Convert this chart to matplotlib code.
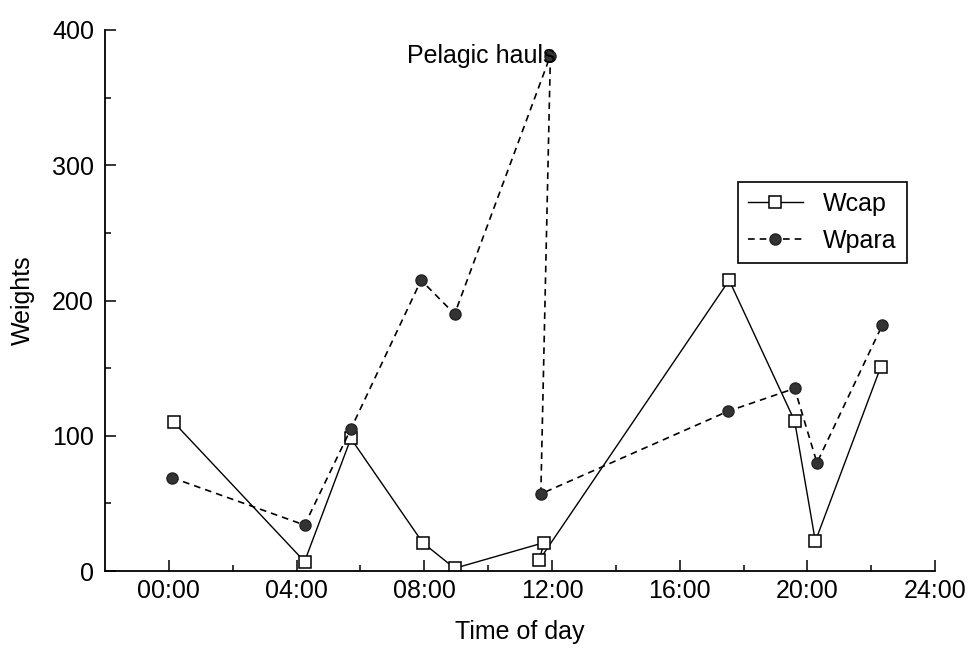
import matplotlib
matplotlib.use("Agg")
import matplotlib.pyplot as plt

plt.rcParams['font.family'] = ['Liberation Sans', 'DejaVu Sans']

# time of day in hours, weights
time_wcap = [0.15, 4.25, 5.7, 7.95, 8.95, 11.75, 11.6, 17.55, 19.6, 20.25, 22.3]
wcap = [110, 7, 98, 21, 2, 21, 8, 215, 111, 22, 151]

time_wpara = [0.1, 4.25, 5.7, 7.9, 8.95, 11.95, 11.65, 17.5, 19.6, 20.3, 22.35]
wpara = [69, 34, 105, 215, 190, 381, 57, 118, 135, 80, 182]

xticks = [0, 4, 8, 12, 16, 20, 24]
xticklabels = ["00:00", "04:00", "08:00", "12:00", "16:00", "20:00", "24:00"]
yticks = [0, 100, 200, 300, 400]

fs = 18

fig = plt.figure(figsize=(9.69, 6.55), dpi=100)
ax = fig.add_axes([0.1084, 0.1282, 0.8566, 0.826])

ax.plot(time_wcap, wcap, color='black', lw=1.0, marker='s', ms=8,
        mfc='white', mec='black', mew=1.1, label='Wcap')
ax.plot(time_wpara, wpara, color='black', lw=1.2, linestyle=(0, (4, 3)),
        marker='o', ms=8, mfc='#333333', mec='#222222', label='Wpara')

ax.annotate("Pelagic hauls", xy=(time_wpara[5], wpara[5]), xytext=(4, 0),
            textcoords='offset points', ha='right', va='center', fontsize=fs)

ax.set_xlim(-2, 24)
ax.set_ylim(0, 400)
ax.set_xticks(xticks)
ax.set_xticklabels(xticklabels)
ax.set_xticks([2, 6, 10, 14, 18, 22], minor=True)
ax.set_yticks(yticks)
ax.set_yticks([50, 150, 250, 350], minor=True)

for s in ['top', 'right']:
    ax.spines[s].set_visible(False)
for s in ['left', 'bottom']:
    ax.spines[s].set_linewidth(1.3)

ax.tick_params(axis='both', which='major', direction='in', length=8, width=1.1,
               labelsize=fs)
ax.tick_params(axis='both', which='minor', direction='in', length=4, width=1.1)
ax.tick_params(axis='x', which='major', pad=6)
ax.tick_params(axis='y', which='major', pad=8)

ax.set_xlabel("Time of day", fontsize=fs, labelpad=12)
ax.set_ylabel("Weights", fontsize=fs, labelpad=12)

leg = ax.legend(loc='upper left', bbox_to_anchor=(0.7616, 0.7221),
                bbox_transform=fig.transFigure, borderaxespad=0,
                fontsize=fs, handlelength=2.2, handletextpad=0.8,
                fancybox=False, framealpha=1, edgecolor='black')
leg.get_frame().set_linewidth(1.2)

fig.savefig("out.png", dpi=100)
